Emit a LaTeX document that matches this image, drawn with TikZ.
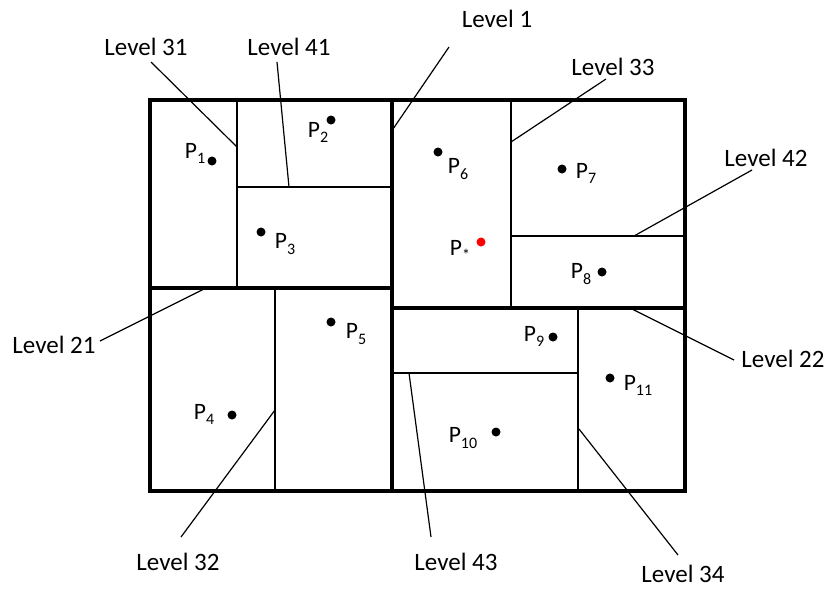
\documentclass[tikz,border=0pt]{standalone}
\usepackage{fontspec}
\setmainfont{Carlito}
\newcommand\Psub[1]{P\raisebox{-0.45ex}{\fontsize{16}{16}\selectfont #1}}
\begin{document}
\begin{tikzpicture}[x=1pt,y=-1pt,
  thickb/.style={line width=3.3pt},
  midb/.style={line width=4.5pt},
  thinb/.style={line width=1.6pt},
  lead/.style={line width=1.2pt},
  lbl/.style={font=\fontsize{25}{28}\selectfont, inner sep=0pt},
  pl/.style={font=\fontsize{23.5}{26}\selectfont, inner sep=0pt},
  pdot/.style={circle, fill=black, inner sep=0pt, minimum size=9pt}]
\useasboundingbox (0,0) rectangle (833,590);
% partition lines (thin)
\draw[thinb] (237,100) -- (237,288);
\draw[thinb] (237,187) -- (392,187);
\draw[thinb] (275,288) -- (275,491);
\draw[thinb] (511,100) -- (511,308);
\draw[thinb] (511,236) -- (685,236);
\draw[thinb] (578,308) -- (578,491);
\draw[thinb] (392,373) -- (578,373);
% thick lines
\draw[thickb] (150,288) -- (392,288);
\draw[thickb] (392,308) -- (685,308);
\draw[midb] (392,100) -- (392,491);
\draw[thickb] (150,100) rectangle (685,491);
% points
\node[pdot] (d1) at (212,161) {};
\node[pdot] (d2) at (331,120) {};
\node[pdot] (d3) at (261,232) {};
\node[pdot] (d4) at (232,415) {};
\node[pdot] (d5) at (331,322) {};
\node[pdot] (d6) at (438,152) {};
\node[pdot] (d7) at (562,169) {};
\node[pdot, fill=red] (ds) at (481,242) {};
\node[pdot] (d8) at (602,272) {};
\node[pdot] (d9) at (553,337) {};
\node[pdot] (d10) at (496,432) {};
\node[pdot] (d11) at (610,378) {};
% point labels
\node[pl] (p1) at (195,153) {\Psub{1}};
\node[pl] (p2) at (318,132) {\Psub{2}};
\node[pl] (p3) at (285,244) {\Psub{3}};
\node[pl] (p4) at (204,414) {\Psub{4}};
\node[pl] (p5) at (356,334) {\Psub{5}};
\node[pl] (p6) at (458,169) {\Psub{6}};
\node[pl] (p7) at (586,173) {\Psub{7}};
\node[pl] (ps) at (460,250) {\Psub{*}};
\node[pl] (p8) at (581,274) {\Psub{8}};
\node[pl] (p9) at (534,336) {\Psub{9}};
\node[pl] (p10) at (463,438) {\Psub{10}};
\node[pl] (p11) at (638,385) {\Psub{11}};
% level labels
\node[lbl] (t1) at (497,19) {Level 1};
\node[lbl] (t31) at (146,47) {Level 31};
\node[lbl] (t41) at (289,47) {Level 41};
\node[lbl] (t33) at (613,67) {Level 33};
\node[lbl] (t42) at (766,158) {Level 42};
\node[lbl] (t21) at (54,345) {Level 21};
\node[lbl] (t22) at (783,359) {Level 22};
\node[lbl] (t32) at (178,562) {Level 32};
\node[lbl] (t43) at (456,562) {Level 43};
\node[lbl] (t34) at (683,574) {Level 34};
% leader ends
\coordinate (a1) at (449,47);   \coordinate (b1) at (393,129);
\coordinate (a31) at (151,62);  \coordinate (b31) at (237,147);
\coordinate (a41) at (277,62);  \coordinate (b41) at (289,187);
\coordinate (a33) at (606,79);  \coordinate (b33) at (511,142);
\coordinate (a42) at (752,170); \coordinate (b42) at (634,236);
\coordinate (a21) at (100,341); \coordinate (b21) at (206,288);
\coordinate (a22) at (734,360); \coordinate (b22) at (630,308);
\coordinate (a32) at (181,537); \coordinate (b32) at (275,410);
\coordinate (a43) at (431,537); \coordinate (b43) at (409,373);
\coordinate (a34) at (678,555); \coordinate (b34) at (579,429);
\foreach \n in {1,31,41,33,42,21,22,32,43,34}
  \draw[lead] (a\n) -- (b\n);
\end{tikzpicture}
\end{document}
